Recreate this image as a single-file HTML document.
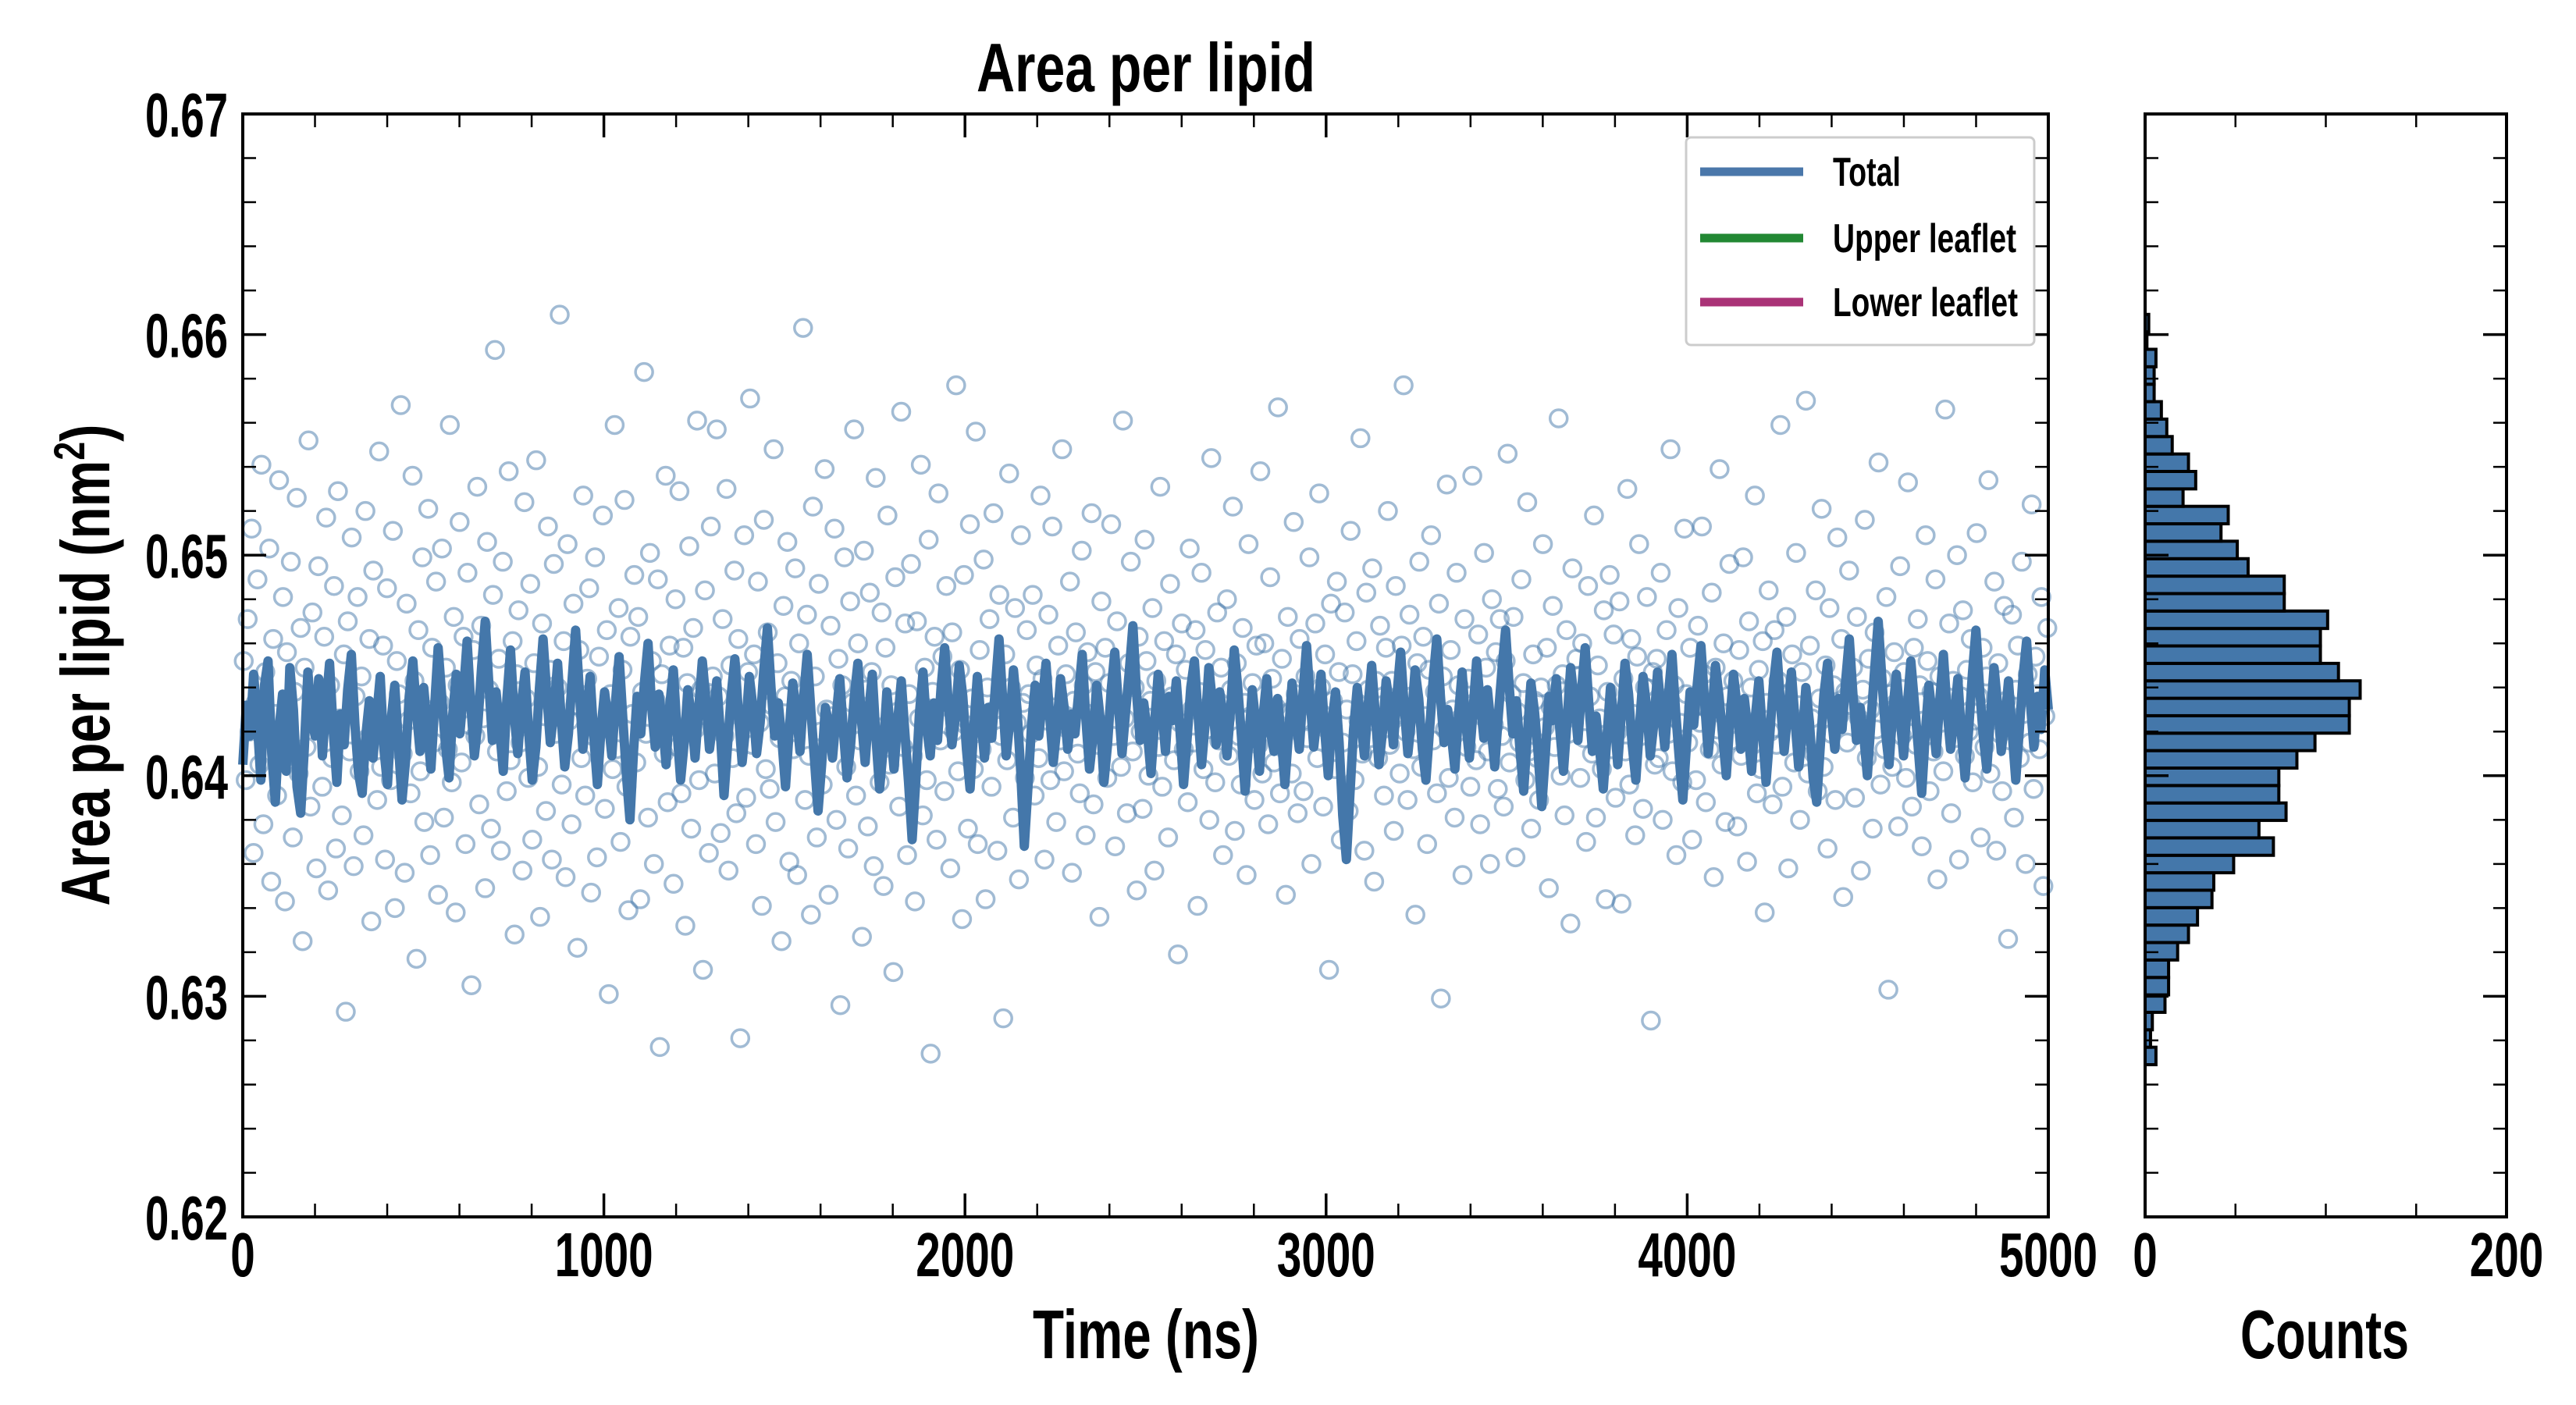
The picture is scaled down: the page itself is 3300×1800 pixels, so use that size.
<!DOCTYPE html>
<html><head><meta charset="utf-8"><title>Area per lipid</title>
<style>
html,body{margin:0;padding:0;background:#fff;}
svg{display:block;}
text{font-family:"Liberation Sans Narrow","Liberation Sans",sans-serif;font-weight:bold;fill:#000;}
</style></head>
<body>
<svg id="chart" width="3300" height="1800" viewBox="0 0 3300 1800" xmlns="http://www.w3.org/2000/svg">
<rect x="0" y="0" width="3300" height="1800" fill="#fff"/>
<g id="scatter"></g>
<g id="line"></g>
<g id="hist"></g>
<g id="axes"></g>
<text x="1468" y="117" font-size="88" text-anchor="middle" textLength="434" lengthAdjust="spacingAndGlyphs">Area per lipid</text>
<text x="1468" y="1740" font-size="88" text-anchor="middle" textLength="290" lengthAdjust="spacingAndGlyphs">Time (ns)</text>
<text x="2978" y="1740" font-size="88" text-anchor="middle" textLength="216" lengthAdjust="spacingAndGlyphs">Counts</text>
<text transform="translate(140,852) rotate(-90)" font-size="88" text-anchor="middle" textLength="617" lengthAdjust="spacingAndGlyphs">Area per lipid (nm<tspan dy="-32" font-size="56">2</tspan><tspan dy="32">)</tspan></text>
<g>
<rect x="2160" y="176" width="446" height="266" rx="6" fill="#fff" stroke="#ccc" stroke-width="3"/>
<line x1="2178" y1="220" x2="2310" y2="220" stroke="#4a77aa" stroke-width="11"/>
<text x="2348" y="238" font-size="52" textLength="87" lengthAdjust="spacingAndGlyphs">Total</text>
<line x1="2178" y1="305" x2="2310" y2="305" stroke="#228833" stroke-width="11"/>
<text x="2348" y="323" font-size="52" textLength="235" lengthAdjust="spacingAndGlyphs">Upper leaflet</text>
<line x1="2178" y1="387" x2="2310" y2="387" stroke="#aa3377" stroke-width="11"/>
<text x="2348" y="405" font-size="52" textLength="237" lengthAdjust="spacingAndGlyphs">Lower leaflet</text>
</g>
</svg>
<script>
const xTicks = [0,1000,2000,3000,4000,5000];
const yTicks = [0.62,0.63,0.64,0.65,0.66,0.67];
const histTicks = [0,200];
const lineValues = [0.6405,0.6432,0.6418,0.6446,0.6425,0.6398,0.6441,0.6452,0.6410,0.6388,0.6421,0.6437,0.6402,0.6449,0.6430,0.6395,0.6383,0.6412,0.6447,0.6426,
0.6418,0.6444,0.6409,0.6432,0.6451,0.6420,0.6397,0.6428,0.6414,0.6439,0.6455,0.6423,0.6401,0.6392,0.6418,0.6434,0.6408,0.6427,0.6445,0.6412,
0.6396,0.6425,0.6441,0.6415,0.6389,0.6407,0.6436,0.6452,0.6429,0.6411,0.6440,0.6422,0.6403,0.6431,0.6458,0.6436,0.6414,0.6399,0.6427,0.6446,
0.6419,0.6438,0.6461,0.6433,0.6409,0.6424,0.6449,0.6470,0.6442,0.6416,0.6438,0.6421,0.6402,0.6435,0.6457,0.6428,0.6410,0.6432,0.6447,0.6420,
0.6398,0.6413,0.6440,0.6462,0.6437,0.6415,0.6429,0.6451,0.6426,0.6404,0.6419,0.6443,0.6466,0.6439,0.6412,0.6428,0.6445,0.6418,0.6396,0.6421,
0.6438,0.6425,0.6409,0.6433,0.6454,0.6427,0.6401,0.6380,0.6411,0.6436,0.6419,0.6442,0.6460,0.6431,0.6413,0.6437,0.6424,0.6405,0.6432,0.6448,
0.6421,0.6398,0.6415,0.6439,0.6427,0.6408,0.6430,0.6452,0.6434,0.6412,0.6426,0.6443,0.6419,0.6391,0.6414,0.6437,0.6453,0.6428,0.6406,0.6422,
0.6445,0.6431,0.6410,0.6424,0.6448,0.6467,0.6440,0.6418,0.6433,0.6416,0.6395,0.6420,0.6442,0.6429,0.6411,0.6436,0.6455,0.6430,0.6407,0.6384,
0.6405,0.6431,0.6423,0.6408,0.6427,0.6444,0.6420,0.6399,0.6414,0.6436,0.6451,0.6425,0.6406,0.6429,0.6446,0.6417,0.6394,0.6412,0.6438,0.6421,
0.6403,0.6425,0.6443,0.6419,0.6397,0.6371,0.6398,0.6428,0.6447,0.6422,0.6409,0.6433,0.6416,0.6440,0.6458,0.6432,0.6414,0.6427,0.6450,0.6436,
0.6412,0.6394,0.6421,0.6445,0.6426,0.6408,0.6431,0.6417,0.6440,0.6462,0.6435,0.6409,0.6425,0.6448,0.6430,0.6402,0.6368,0.6395,0.6423,0.6441,
0.6418,0.6434,0.6451,0.6427,0.6406,0.6422,0.6444,0.6431,0.6412,0.6428,0.6419,0.6437,0.6455,0.6426,0.6403,0.6418,0.6441,0.6425,0.6397,0.6414,
0.6439,0.6456,0.6432,0.6410,0.6429,0.6447,0.6468,0.6438,0.6416,0.6433,0.6420,0.6401,0.6424,0.6446,0.6430,0.6411,0.6436,0.6425,0.6443,0.6421,
0.6396,0.6417,0.6440,0.6452,0.6428,0.6405,0.6424,0.6449,0.6433,0.6414,0.6438,0.6427,0.6409,0.6430,0.6457,0.6440,0.6418,0.6393,0.6415,0.6439,
0.6423,0.6402,0.6427,0.6444,0.6420,0.6411,0.6435,0.6418,0.6396,0.6419,0.6442,0.6426,0.6412,0.6437,0.6459,0.6434,0.6413,0.6428,0.6446,0.6421,
0.6400,0.6424,0.6438,0.6415,0.6382,0.6362,0.6392,0.6421,0.6440,0.6425,0.6409,0.6432,0.6450,0.6428,0.6405,0.6420,0.6443,0.6432,0.6414,0.6437,
0.6456,0.6431,0.6410,0.6426,0.6448,0.6435,0.6412,0.6398,0.6421,0.6444,0.6462,0.6436,0.6415,0.6430,0.6419,0.6403,0.6428,0.6447,0.6424,0.6408,
0.6429,0.6452,0.6433,0.6417,0.6439,0.6422,0.6404,0.6427,0.6448,0.6466,0.6441,0.6419,0.6434,0.6411,0.6393,0.6418,0.6442,0.6429,0.6410,0.6386,
0.6410,0.6436,0.6425,0.6444,0.6421,0.6402,0.6425,0.6449,0.6434,0.6416,0.6439,0.6458,0.6433,0.6411,0.6427,0.6412,0.6394,0.6417,0.6440,0.6426,
0.6405,0.6428,0.6451,0.6437,0.6414,0.6398,0.6422,0.6445,0.6431,0.6409,0.6424,0.6447,0.6430,0.6413,0.6436,0.6455,0.6429,0.6408,0.6389,0.6414,
0.6438,0.6423,0.6442,0.6459,0.6434,0.6410,0.6427,0.6450,0.6436,0.6418,0.6400,0.6425,0.6446,0.6431,0.6412,0.6435,0.6420,0.6402,0.6426,0.6443,
0.6420,0.6397,0.6418,0.6441,0.6456,0.6432,0.6411,0.6429,0.6447,0.6425,0.6404,0.6418,0.6440,0.6424,0.6399,0.6388,0.6414,0.6437,0.6451,0.6428,
0.6412,0.6435,0.6421,0.6443,0.6462,0.6437,0.6416,0.6431,0.6418,0.6400,0.6425,0.6448,0.6470,0.6444,0.6420,0.6405,0.6429,0.6446,0.6427,0.6409,
0.6431,0.6452,0.6433,0.6414,0.6392,0.6419,0.6441,0.6426,0.6410,0.6434,0.6455,0.6430,0.6412,0.6427,0.6444,0.6418,0.6399,0.6421,0.6446,0.6466,
0.6440,0.6418,0.6403,0.6427,0.6449,0.6432,0.6411,0.6425,0.6443,0.6420,0.6398,0.6421,0.6445,0.6461,0.6434,0.6413,0.6436,0.6421,0.6448,0.6430];
const scatterValues = [.6452,.6398,.6471,.6420,.6512,.6365,.6433,.6489,.6405,.6541,.6378,.6447,.6419,.6503,.6352,.6462,.6428,.6391,.6534,.6415,
.6481,.6343,.6456,.6409,.6497,.6372,.6438,.6526,.6401,.6467,.6325,.6449,.6413,.6552,.6386,.6474,.6431,.6358,.6495,.6422,
.6395,.6463,.6517,.6348,.6441,.6408,.6486,.6367,.6529,.6426,.6382,.6455,.6293,.6470,.6411,.6508,.6359,.6436,.6481,.6402,
.6445,.6373,.6520,.6417,.6462,.6334,.6493,.6428,.6389,.6547,.6404,.6459,.6362,.6485,.6421,.6398,.6511,.6340,.6452,.6437,
.6568,.6410,.6356,.6478,.6425,.6392,.6536,.6443,.6317,.6466,.6402,.6499,.6379,.6430,.6521,.6364,.6458,.6415,.6488,.6346,
.6433,.6503,.6381,.6449,.6412,.6559,.6397,.6472,.6338,.6441,.6515,.6406,.6463,.6369,.6492,.6423,.6305,.6457,.6418,.6531,
.6387,.6468,.6426,.6349,.6506,.6439,.6376,.6482,.6593,.6411,.6453,.6366,.6497,.6429,.6393,.6538,.6407,.6461,.6328,.6446,
.6475,.6415,.6357,.6524,.6435,.6399,.6487,.6371,.6451,.6543,.6404,.6336,.6469,.6427,.6384,.6513,.6448,.6362,.6496,.6419,
.6440,.6609,.6396,.6461,.6354,.6505,.6425,.6378,.6478,.6432,.6322,.6457,.6408,.6527,.6391,.6444,.6485,.6347,.6418,.6499,
.6363,.6454,.6421,.6518,.6385,.6466,.6301,.6437,.6403,.6559,.6412,.6476,.6370,.6448,.6525,.6395,.6339,.6463,.6428,.6491,
.6406,.6472,.6344,.6438,.6583,.6419,.6381,.6501,.6452,.6360,.6434,.6489,.6277,.6446,.6410,.6536,.6388,.6459,.6425,.6351,
.6480,.6413,.6529,.6392,.6458,.6332,.6442,.6504,.6376,.6467,.6421,.6561,.6398,.6439,.6312,.6484,.6427,.6365,.6513,.6445,
.6401,.6557,.6436,.6374,.6471,.6418,.6530,.6357,.6450,.6408,.6493,.6383,.6462,.6281,.6426,.6509,.6390,.6447,.6571,.6414,
.6455,.6369,.6488,.6424,.6341,.6516,.6403,.6465,.6394,.6432,.6548,.6379,.6451,.6417,.6325,.6477,.6436,.6506,.6361,.6443,
.6412,.6494,.6355,.6460,.6431,.6603,.6389,.6473,.6409,.6337,.6522,.6445,.6372,.6487,.6420,.6396,.6539,.6430,.6346,.6468,
.6427,.6512,.6380,.6453,.6296,.6441,.6499,.6404,.6367,.6479,.6433,.6557,.6391,.6460,.6416,.6327,.6502,.6439,.6377,.6483,
.6447,.6359,.6535,.6422,.6397,.6474,.6350,.6458,.6518,.6405,.6441,.6311,.6490,.6429,.6386,.6565,.6413,.6469,.6364,.6437,
.6496,.6409,.6343,.6470,.6426,.6541,.6382,.6449,.6398,.6507,.6274,.6438,.6463,.6371,.6528,.6416,.6454,.6393,.6486,.6431,
.6358,.6465,.6420,.6577,.6402,.6448,.6335,.6491,.6423,.6376,.6514,.6435,.6403,.6556,.6369,.6457,.6412,.6498,.6344,.6440,
.6471,.6395,.6519,.6430,.6366,.6482,.6418,.6290,.6455,.6407,.6537,.6440,.6381,.6476,.6424,.6353,.6509,.6433,.6399,.6466,
.6437,.6419,.6482,.6391,.6450,.6408,.6527,.6444,.6362,.6425,.6473,.6398,.6513,.6431,.6379,.6459,.6416,.6548,.6402,.6446,
.6421,.6488,.6356,.6434,.6465,.6410,.6392,.6502,.6441,.6373,.6456,.6428,.6519,.6387,.6447,.6414,.6336,.6479,.6423,.6458,
.6399,.6442,.6514,.6418,.6368,.6470,.6432,.6404,.6561,.6426,.6383,.6451,.6497,.6411,.6440,.6348,.6463,.6420,.6385,.6507,
.6452,.6400,.6434,.6476,.6357,.6443,.6413,.6531,.6395,.6461,.6428,.6372,.6487,.6436,.6407,.6455,.6319,.6424,.6469,.6412,
.6448,.6388,.6503,.6430,.6415,.6466,.6341,.6438,.6492,.6403,.6457,.6421,.6380,.6544,.6435,.6397,.6474,.6416,.6449,.6364,
.6426,.6480,.6409,.6439,.6522,.6375,.6451,.6418,.6396,.6467,.6433,.6355,.6505,.6427,.6442,.6389,.6459,.6414,.6538,.6401,
.6460,.6422,.6378,.6490,.6444,.6406,.6431,.6567,.6392,.6453,.6418,.6346,.6472,.6429,.6401,.6515,.6437,.6383,.6462,.6425,
.6393,.6445,.6417,.6499,.6360,.6432,.6469,.6408,.6528,.6440,.6386,.6455,.6421,.6312,.6478,.6434,.6403,.6488,.6447,.6371,
.6415,.6474,.6430,.6384,.6511,.6446,.6398,.6461,.6425,.6553,.6410,.6366,.6483,.6439,.6417,.6494,.6352,.6443,.6408,.6468,
.6432,.6391,.6458,.6520,.6414,.6443,.6375,.6486,.6428,.6401,.6459,.6577,.6420,.6389,.6473,.6436,.6412,.6337,.6451,.6497,
.6404,.6463,.6427,.6369,.6448,.6509,.6416,.6438,.6392,.6478,.6299,.6445,.6421,.6532,.6399,.6457,.6430,.6381,.6492,.6441,
.6426,.6355,.6471,.6413,.6444,.6395,.6536,.6433,.6407,.6464,.6378,.6427,.6501,.6449,.6411,.6360,.6480,.6423,.6456,.6394,
.6471,.6418,.6386,.6452,.6546,.6406,.6437,.6472,.6363,.6429,.6415,.6489,.6442,.6398,.6524,.6411,.6376,.6455,.6434,.6408,
.6389,.6440,.6505,.6422,.6458,.6349,.6431,.6477,.6413,.6441,.6562,.6400,.6446,.6382,.6466,.6419,.6333,.6494,.6428,.6453,
.6445,.6399,.6460,.6417,.6370,.6486,.6436,.6410,.6518,.6381,.6450,.6426,.6403,.6475,.6344,.6438,.6491,.6412,.6464,.6390,
.6420,.6479,.6342,.6444,.6411,.6530,.6396,.6462,.6428,.6373,.6454,.6505,.6418,.6385,.6440,.6481,.6429,.6289,.6447,.6405,
.6453,.6408,.6492,.6380,.6435,.6466,.6419,.6548,.6402,.6441,.6364,.6476,.6424,.6397,.6512,.6437,.6415,.6458,.6371,.6431,
.6398,.6468,.6424,.6513,.6446,.6388,.6430,.6412,.6483,.6354,.6449,.6421,.6539,.6405,.6460,.6379,.6436,.6496,.6416,.6443,
.6431,.6377,.6457,.6409,.6499,.6425,.6361,.6470,.6440,.6414,.6527,.6392,.6448,.6403,.6461,.6338,.6433,.6484,.6420,.6387,
.6466,.6414,.6443,.6559,.6395,.6437,.6472,.6358,.6428,.6455,.6406,.6501,.6432,.6380,.6447,.6418,.6570,.6401,.6459,.6426,
.6410,.6484,.6393,.6435,.6521,.6404,.6450,.6367,.6476,.6419,.6441,.6389,.6508,.6427,.6462,.6345,.6438,.6415,.6493,.6432,
.6449,.6390,.6472,.6426,.6357,.6439,.6516,.6408,.6453,.6430,.6376,.6465,.6421,.6542,.6396,.6444,.6412,.6481,.6303,.6437,
.6404,.6456,.6433,.6377,.6495,.6418,.6447,.6399,.6533,.6427,.6386,.6458,.6414,.6471,.6441,.6368,.6425,.6509,.6452,.6393,
.6438,.6411,.6489,.6353,.6445,.6424,.6402,.6566,.6430,.6469,.6383,.6443,.6417,.6500,.6362,.6436,.6475,.6409,.6448,.6420,
.6462,.6397,.6425,.6510,.6436,.6372,.6458,.6413,.6445,.6534,.6401,.6429,.6488,.6366,.6451,.6419,.6393,.6477,.6434,.6326,
.6416,.6473,.6381,.6439,.6459,.6408,.6497,.6428,.6360,.6446,.6415,.6523,.6394,.6454,.6437,.6412,.6481,.6350,.6427,.6467];
const histStart = 0.6269;
const histBinWidth = 0.000791;
const histCounts = [6,3,4,11,13,13,18,24,29,37,38,49,71,63,78,74,74,84,94,113,113,119,107,97,97,101,77,77,57,51,42,46,21,28,24,15,12,9,5,5,6,1,2];

const NS='http://www.w3.org/2000/svg';
const L=311,R=2624,T=146,B=1559,HL=2748,HR=3211;
const X0=0,X1=5000,Y0=0.62,Y1=0.67,C1=200;
function xs(v){return L+(v-X0)/(X1-X0)*(R-L);}
function ys(v){return B-(v-Y0)/(Y1-Y0)*(B-T);}
function hs(c){return HL+c/C1*(HR-HL);}
function mk(tag,attrs,parent){const e=document.createElementNS(NS,tag);for(const k in attrs)e.setAttribute(k,attrs[k]);parent.appendChild(e);return e;}

const gS=document.getElementById('scatter');
scatterValues.forEach((v,i)=>{
  const t=(i+0.5)/scatterValues.length*X1;
  const c=mk('circle',{cx:xs(t),cy:ys(v),r:11,fill:'none',stroke:'#4477aa','stroke-opacity':0.5,'stroke-width':3.5},gS);
  
  
});
const gL=document.getElementById('line');
let d='';
lineValues.forEach((v,i)=>{const t=i/(lineValues.length-1)*X1;d+=(i?'L':'M')+xs(t).toFixed(1)+','+ys(v).toFixed(1);});
const p=mk('path',{d:d,fill:'none',stroke:'#4477aa','stroke-width':12,'stroke-linejoin':'round'},gL);



const gH=document.getElementById('hist');
histCounts.forEach((c,i)=>{
  const lo=histStart+i*histBinWidth, hi=lo+histBinWidth;
  const r=mk('rect',{x:HL,y:ys(hi),width:hs(c)-HL,height:ys(lo)-ys(hi),fill:'#4477aa',stroke:'#000','stroke-width':4},gH);
  
  
});

const gA=document.getElementById('axes');
function frame(x1,x2,name){
  const f=mk('rect',{x:x1,y:T,width:x2-x1,height:B-T,fill:'none',stroke:'#000','stroke-width':4},gA);
  
  
}
frame(L,R,'main-axes-frame');frame(HL,HR,'histogram-axes-frame');
function tick(x1,y1,x2,y2,w){mk('line',{x1:x1,y1:y1,x2:x2,y2:y2,stroke:'#000','stroke-width':w},gA);}
for(let k=1;k<25;k++){
  const v=Y0+k*0.002, y=ys(v), major=k%5===0, len=major?30:17, w=major?3.5:2.5;
  tick(L,y,L+len,y,w);tick(R,y,R-len,y,w);tick(HL,y,HL+len,y,w);tick(HR,y,HR-len,y,w);
}
for(let k=1;k<25;k++){
  const x=xs(k*200), major=k%5===0, len=major?30:17, w=major?3.5:2.5;
  tick(x,B,x,B-len,w);tick(x,T,x,T+len,w);
}
for(let k=1;k<4;k++){const x=hs(k*50);tick(x,B,x,B-17,2.5);tick(x,T,x,T+17,2.5);}
yTicks.forEach(v=>{
  const t=mk('text',{x:292,y:ys(v)+29,'font-size':80,'text-anchor':'end',textLength:106,lengthAdjust:'spacingAndGlyphs'},gA);
  t.textContent=v.toFixed(2);
  
  
});
xTicks.forEach(v=>{
  const s=String(v);
  const t=mk('text',{x:xs(v),y:1635,'font-size':80,'text-anchor':'middle',textLength:s.length*31.5,lengthAdjust:'spacingAndGlyphs'},gA);
  t.textContent=s;
  
  
});
histTicks.forEach(v=>{
  const s=String(v);
  const t=mk('text',{x:hs(v),y:1635,'font-size':80,'text-anchor':'middle',textLength:s.length*31.5,lengthAdjust:'spacingAndGlyphs'},gA);
  t.textContent=s;
  
  
});
</script>
</body></html>
